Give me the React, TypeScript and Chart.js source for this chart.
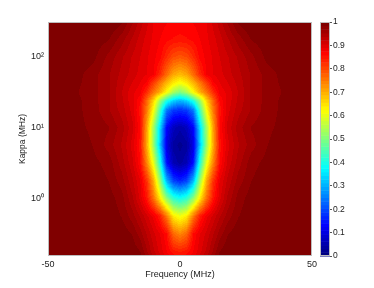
import React, { useEffect, useRef } from 'react';
import { Chart, registerables } from 'chart.js';

Chart.register(...registerables);

// Frequency detuning columns (MHz)
const FREQ_MHZ = [-50, -40, -33, -27, -22, -18, -15, -12.5, -10, -7.5, -5, -2.5, 0, 2.5, 5, 7.5, 10, 12.5, 15, 18, 22, 27, 33, 40, 50];
// Kappa rows (MHz), top to bottom
const KAPPA_MHZ = [310, 178, 100, 56.2, 42.2, 31.6, 23.7, 17.8, 10, 5.62, 3.16, 1.78, 1, 0.562, 0.316, 0.178, 0.153];

// Normalised transmission, one row per kappa value
const T_K310 = [1, 1, 1, 1, 0.988, 0.955, 0.93, 0.91, 0.89, 0.882, 0.876, 0.872, 0.87, 0.872, 0.876, 0.882, 0.89, 0.91, 0.93, 0.955, 0.988, 1, 1, 1, 1];
const T_K178 = [1, 1, 0.996, 0.986, 0.96, 0.935, 0.915, 0.9, 0.887, 0.875, 0.865, 0.858, 0.855, 0.858, 0.865, 0.875, 0.887, 0.9, 0.915, 0.935, 0.96, 0.986, 0.996, 1, 1];
const T_K100 = [1, 0.997, 0.99, 0.964, 0.94, 0.92, 0.906, 0.893, 0.88, 0.865, 0.83, 0.8, 0.79, 0.8, 0.83, 0.865, 0.88, 0.893, 0.906, 0.92, 0.94, 0.964, 0.99, 0.997, 1];
const T_K56 = [1, 0.992, 0.976, 0.955, 0.932, 0.915, 0.9, 0.89, 0.877, 0.83, 0.765, 0.71, 0.69, 0.71, 0.765, 0.83, 0.877, 0.89, 0.9, 0.915, 0.932, 0.955, 0.976, 0.992, 1];
const T_K42 = [1, 0.99, 0.975, 0.955, 0.927, 0.905, 0.89, 0.87, 0.81, 0.75, 0.69, 0.64, 0.61, 0.64, 0.69, 0.75, 0.81, 0.87, 0.89, 0.905, 0.927, 0.955, 0.975, 0.99, 1];
const T_K32 = [1, 0.987, 0.975, 0.956, 0.922, 0.895, 0.88, 0.83, 0.76, 0.7, 0.625, 0.54, 0.5, 0.54, 0.625, 0.7, 0.76, 0.83, 0.88, 0.895, 0.922, 0.956, 0.975, 0.987, 1];
const T_K24 = [1, 0.99, 0.976, 0.955, 0.925, 0.895, 0.86, 0.77, 0.66, 0.52, 0.4, 0.33, 0.3, 0.33, 0.4, 0.52, 0.66, 0.77, 0.86, 0.895, 0.925, 0.955, 0.976, 0.99, 1];
const T_K18 = [1, 0.99, 0.977, 0.955, 0.93, 0.9, 0.85, 0.75, 0.62, 0.44, 0.25, 0.19, 0.18, 0.19, 0.25, 0.44, 0.62, 0.75, 0.85, 0.9, 0.93, 0.955, 0.977, 0.99, 1];
const T_K10 = [1, 0.99, 0.981, 0.97, 0.945, 0.91, 0.86, 0.71, 0.53, 0.34, 0.13, 0.07, 0.05, 0.07, 0.13, 0.34, 0.53, 0.71, 0.86, 0.91, 0.945, 0.97, 0.981, 0.99, 1];
const T_K5_6 = [1, 0.995, 0.984, 0.962, 0.935, 0.9, 0.85, 0.7, 0.52, 0.32, 0.1, 0.04, 0.025, 0.04, 0.1, 0.32, 0.52, 0.7, 0.85, 0.9, 0.935, 0.962, 0.984, 0.995, 1];
const T_K3_2 = [1, 1, 0.99, 0.978, 0.945, 0.91, 0.86, 0.74, 0.6, 0.4, 0.14, 0.06, 0.04, 0.06, 0.14, 0.4, 0.6, 0.74, 0.86, 0.91, 0.945, 0.978, 0.99, 1, 1];
const T_K1_8 = [1, 1, 0.996, 0.984, 0.96, 0.925, 0.89, 0.82, 0.7, 0.52, 0.3, 0.19, 0.16, 0.19, 0.3, 0.52, 0.7, 0.82, 0.89, 0.925, 0.96, 0.984, 0.996, 1, 1];
const T_K1 = [1, 1, 1, 0.993, 0.975, 0.94, 0.9, 0.85, 0.76, 0.64, 0.51, 0.42, 0.39, 0.42, 0.51, 0.64, 0.76, 0.85, 0.9, 0.94, 0.975, 0.993, 1, 1, 1];
const T_K0_56 = [1, 1, 1, 0.997, 0.983, 0.96, 0.935, 0.91, 0.885, 0.84, 0.75, 0.64, 0.61, 0.64, 0.75, 0.84, 0.885, 0.91, 0.935, 0.96, 0.983, 0.997, 1, 1, 1];
const T_K0_32 = [1, 1, 1, 1, 0.995, 0.983, 0.96, 0.935, 0.91, 0.89, 0.86, 0.77, 0.74, 0.77, 0.86, 0.89, 0.91, 0.935, 0.96, 0.983, 0.995, 1, 1, 1, 1];
const T_K0_18 = [1, 1, 1, 1, 1, 0.995, 0.984, 0.955, 0.925, 0.9, 0.875, 0.85, 0.84, 0.85, 0.875, 0.9, 0.925, 0.955, 0.984, 0.995, 1, 1, 1, 1, 1];
const T_K0_15 = [1, 1, 1, 1, 1, 0.998, 0.988, 0.965, 0.935, 0.91, 0.885, 0.865, 0.855, 0.865, 0.885, 0.91, 0.935, 0.965, 0.988, 0.998, 1, 1, 1, 1, 1];

const TRANSMISSION = [T_K310, T_K178, T_K100, T_K56, T_K42, T_K32, T_K24, T_K18, T_K10, T_K5_6, T_K3_2, T_K1_8, T_K1, T_K0_56, T_K0_32, T_K0_18, T_K0_15];

const X_TICKS = [-50, 0, 50];
const Y_TICKS = [1, 10, 100];
const Y_TICK_LABELS = ['10\u2070', '10\u00b9', '10\u00b2'];
const CBAR_TICKS = [0, 0.1, 0.2, 0.3, 0.4, 0.5, 0.6, 0.7, 0.8, 0.9, 1];
const X_TITLE = 'Frequency (MHz)';
const Y_TITLE = 'Kappa (MHz)';

const FONT = '"Liberation Sans", Arial, Helvetica, sans-serif';
const TEXT = '#222';
const FRAME = '#bdbdbd';

function jet64(v: number): [number, number, number] {
  const q = Math.max(0, Math.min(63, Math.floor(v * 64)));
  const t = q / 63;
  const c = (d: number) => Math.max(0, Math.min(1, 1.5 - Math.abs(4 * t - d)));
  return [Math.round(c(3) * 255), Math.round(c(2) * 255), Math.round(c(1) * 255)];
}

const heatmapPlugin = {
  id: 'heatmap',
  beforeDatasetsDraw(chart: any) {
    const { ctx, chartArea: a, scales } = chart;
    const xs = scales.x;
    const ys = scales.y;
    const w = Math.round(a.right - a.left);
    const h = Math.round(a.bottom - a.top);
    const off = document.createElement('canvas');
    off.width = w;
    off.height = h;
    const octx = off.getContext('2d')!;
    const img = octx.createImageData(w, h);
    const logK = KAPPA_MHZ.map((k) => Math.log10(k));
    const nR = logK.length;
    const nC = FREQ_MHZ.length;
    for (let j = 0; j < h; j++) {
      const lk = Math.log10(ys.getValueForPixel(a.top + j + 0.5));
      let r = 0;
      while (r < nR - 2 && lk < logK[r + 1]) r++;
      let ty = (logK[r] - lk) / (logK[r] - logK[r + 1]);
      ty = Math.max(0, Math.min(1, ty));
      const rowA = TRANSMISSION[r];
      const rowB = TRANSMISSION[r + 1];
      for (let i = 0; i < w; i++) {
        const f = xs.getValueForPixel(a.left + i + 0.5);
        let c = 0;
        while (c < nC - 2 && f > FREQ_MHZ[c + 1]) c++;
        let tx = (f - FREQ_MHZ[c]) / (FREQ_MHZ[c + 1] - FREQ_MHZ[c]);
        tx = Math.max(0, Math.min(1, tx));
        const top = rowA[c] * (1 - tx) + rowA[c + 1] * tx;
        const bot = rowB[c] * (1 - tx) + rowB[c + 1] * tx;
        const v = top * (1 - ty) + bot * ty;
        const [R, G, B] = jet64(v);
        const p = (j * w + i) * 4;
        img.data[p] = R;
        img.data[p + 1] = G;
        img.data[p + 2] = B;
        img.data[p + 3] = 255;
      }
    }
    octx.putImageData(img, 0, 0);
    ctx.save();
    ctx.drawImage(off, a.left, a.top);
    ctx.strokeStyle = FRAME;
    ctx.lineWidth = 1;
    ctx.strokeRect(a.left + 0.5, a.top + 0.5, w - 1, h - 1);
    ctx.restore();
  },
};

const colorbarPlugin = {
  id: 'colorbar',
  beforeDatasetsDraw(chart: any) {
    const { ctx, chartArea: a, scales } = chart;
    const ys = scales.y;
    ctx.save();
    for (let k = 0; k < 64; k++) {
      const y0 = ys.getPixelForValue(k / 64);
      const y1 = ys.getPixelForValue((k + 1) / 64);
      const [R, G, B] = jet64((k + 0.5) / 64);
      ctx.fillStyle = `rgb(${R},${G},${B})`;
      ctx.fillRect(a.left, y1, a.right - a.left, y0 - y1 + 0.5);
    }
    ctx.strokeStyle = FRAME;
    ctx.lineWidth = 1;
    ctx.strokeRect(a.left + 0.5, a.top + 0.5, a.right - a.left - 1, a.bottom - a.top - 1);
    ctx.restore();
  },
};

export default function App() {
  const mainRef = useRef<HTMLCanvasElement>(null);
  const barRef = useRef<HTMLCanvasElement>(null);

  useEffect(() => {
    const main = new Chart(mainRef.current as HTMLCanvasElement, {
      type: 'scatter',
      data: { datasets: [] },
      options: {
        responsive: false,
        animation: false,
        plugins: { legend: { display: false }, tooltip: { enabled: false } },
        layout: { padding: { top: 22, right: 8, left: 0, bottom: 0 } },
        scales: {
          x: {
            type: 'linear',
            min: -50,
            max: 50,
            position: 'bottom',
            grid: { display: false, drawTicks: false },
            border: { display: false },
            ticks: {
              padding: 3,
              maxRotation: 0,
              font: { family: FONT, size: 9 },
              color: TEXT,
              callback: (v: any) => String(v),
            },
            afterBuildTicks: (s: any) => {
              s.ticks = X_TICKS.map((v) => ({ value: v }));
            },
            afterFit: (s: any) => {
              s.height = 32;
            },
            title: {
              display: true,
              text: X_TITLE,
              font: { family: FONT, size: 9 },
              color: TEXT,
              padding: { top: 0, bottom: 8 },
            },
          },
          y: {
            type: 'logarithmic',
            min: 0.153,
            max: 310,
            position: 'left',
            grid: { display: false, drawTicks: false },
            border: { display: false },
            ticks: {
              padding: 4,
              font: { family: FONT, size: 9 },
              color: TEXT,
              callback: (v: any) => {
                const i = Y_TICKS.indexOf(Number(v));
                return i >= 0 ? Y_TICK_LABELS[i] : '';
              },
            },
            afterBuildTicks: (s: any) => {
              s.ticks = Y_TICKS.map((v) => ({ value: v }));
            },
            afterFit: (s: any) => {
              s.width = 48;
            },
            title: {
              display: true,
              text: Y_TITLE,
              font: { family: FONT, size: 8.5 },
              color: TEXT,
              padding: { top: 18, bottom: 0 },
            },
          },
        },
      } as any,
      plugins: [heatmapPlugin],
    });

    const bar = new Chart(barRef.current as HTMLCanvasElement, {
      type: 'scatter',
      data: { datasets: [] },
      options: {
        responsive: false,
        animation: false,
        plugins: { legend: { display: false }, tooltip: { enabled: false } },
        layout: { padding: { top: 22, right: 0, left: 20, bottom: 32 } },
        scales: {
          x: { display: false, min: 0, max: 1 },
          y: {
            type: 'linear',
            position: 'right',
            min: 0,
            max: 1,
            grid: { display: true, drawOnChartArea: false, drawTicks: true, tickLength: 2, color: '#555' },
            border: { display: false },
            ticks: {
              padding: 1,
              font: { family: FONT, size: 8.5 },
              color: TEXT,
              callback: (v: any) => String(v),
            },
            afterBuildTicks: (s: any) => {
              s.ticks = CBAR_TICKS.map((v) => ({ value: v }));
            },
            afterFit: (s: any) => {
              s.width = 44;
            },
          },
        },
      } as any,
      plugins: [colorbarPlugin],
    });

    return () => {
      main.destroy();
      bar.destroy();
    };
  }, []);

  return (
    <div style={{ position: 'fixed', left: 0, top: 0, width: 374, height: 288, background: '#fff' }}>
      <canvas ref={mainRef} width={320} height={288} style={{ position: 'absolute', left: 0, top: 0 }} />
      <canvas ref={barRef} width={74} height={288} style={{ position: 'absolute', left: 300, top: 0 }} />
    </div>
  );
}
